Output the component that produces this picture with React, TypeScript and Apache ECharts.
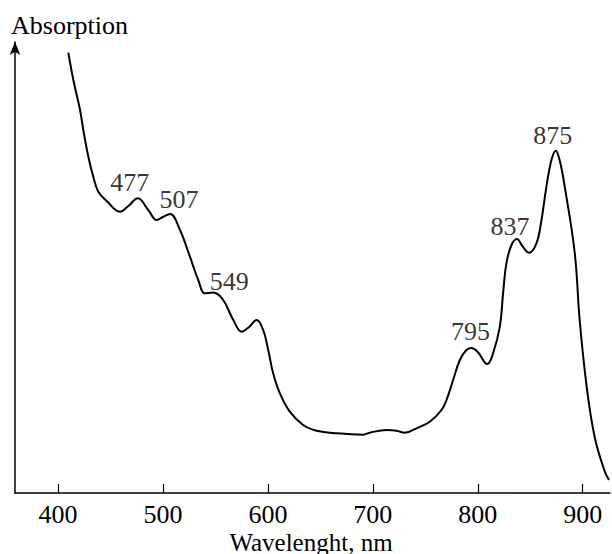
import React, { useEffect, useRef } from "react";
import * as echarts from "echarts";

const wavelengths = [
  409.8, 414.6, 421, 424.1, 428.9, 433.6, 438.4, 446.4, 459, 467, 476, 486, 494, 500, 506.7,
  516.2, 525.7, 533.6, 540, 547.9, 557.4, 567, 575, 582, 589.2, 595.5, 600.3, 605, 611.4,
  620.9, 633.6, 646.4, 665.4, 690.8, 697.1, 713, 722.6, 730.5, 741.6, 754.3, 765.4, 770.2,
  776.5, 782.9, 789.2, 794, 800, 809, 814.6, 821, 824.1, 827.3, 832.1, 837.4, 842.5, 848.6,
  855.9, 860.7, 865.4, 870.2, 874.3, 878, 882.9, 892.4, 897.1, 903.8, 911.4, 920.5, 925,
];
const absorption = [
  440.3, 413, 383, 363, 336.3, 316.3, 301.3, 292, 281.3, 287, 294.7, 283, 273, 276, 279,
  263, 236.3, 213, 199.7, 200.6, 193, 173, 161.3, 166, 173, 163, 143, 119.7, 99.7,
  81.3, 68, 62.3, 59.7, 58.3, 60.3, 63, 62.3, 60.3, 64.7, 71.3, 83, 93,
  113, 133, 143, 145, 141, 129, 139.7, 166.3, 199.7, 229.7, 248, 254, 247, 240.3,
  249.7, 273, 306.3, 333, 342.3, 333, 306, 240, 173, 106, 56, 23, 13,
];
const peakLabels = ["477", "507", "549", "795", "837", "875"];
const peakX = [476, 506.7, 547.9, 794, 837.4, 874.3];
const peakY = [294.7, 279, 200.6, 145, 254, 342.3];
const labelOffsets = [
  [-8, -16],
  [9, -15],
  [16, -11],
  [-1, -17],
  [-7, -13],
  [-3, -15],
];
const xTicks = [400, 500, 600, 700, 800, 900];

const FONT = "Liberation Serif";

export default function App() {
  const ref = useRef<HTMLDivElement>(null);
  useEffect(() => {
    if (!ref.current) return;
    const chart = echarts.init(ref.current, null, { renderer: "svg" });
    chart.setOption({
      animation: false,
      backgroundColor: "#fff",
      grid: { left: 15, right: 2, top: 42, bottom: 61 },
      xAxis: {
        type: "value",
        min: 359,
        max: 926,
        axisLine: { show: true, lineStyle: { color: "#000", width: 1.5 } },
        axisTick: {
          show: true,
          inside: true,
          length: 9,
          customValues: xTicks,
          lineStyle: { color: "#000", width: 1.2 },
        },
        axisLabel: {
          customValues: xTicks,
          color: "#000",
          fontFamily: FONT,
          fontSize: 26,
          lineHeight: 20,
          margin: 11,
        },
        splitLine: { show: false },
      },
      yAxis: {
        type: "value",
        min: 0,
        max: 451,
        axisLine: {
          show: true,
          symbol: ["none", "arrow"],
          symbolSize: [8, 13],
          lineStyle: { color: "#000", width: 1.5 },
        },
        axisTick: { show: false },
        axisLabel: { show: false },
        splitLine: { show: false },
      },
      graphic: [
        {
          type: "text",
          left: 11,
          top: 12,
          style: { text: "Absorption", fontFamily: FONT, fontSize: 26, fill: "#000" },
        },
        {
          type: "text",
          x: 311,
          y: 532,
          style: {
            text: "Wavelenght, nm",
            fontFamily: FONT,
            fontSize: 25,
            lineHeight: 20,
            fill: "#000",
            align: "center",
            verticalAlign: "top",
          },
        },
      ],
      series: [
        {
          type: "line",
          data: wavelengths.map((w, i) => [w, absorption[i]]),
          smooth: 0.4,
          showSymbol: false,
          symbol: "none",
          lineStyle: { color: "#000", width: 2 },
          silent: true,
        },
        {
          type: "scatter",
          symbolSize: 0,
          silent: true,
          data: peakX.map((x, i) => ({
            value: [x, peakY[i]],
            label: {
              show: true,
              position: "inside",
              offset: labelOffsets[i],
              formatter: peakLabels[i],
              color: "#000",
              fontFamily: FONT,
              fontSize: 26,
            },
          })),
        },
      ],
    });
    return () => chart.dispose();
  }, []);
  return <div ref={ref} style={{ width: 612, height: 554, position: "absolute", left: 0, top: 0 }} />;
}
